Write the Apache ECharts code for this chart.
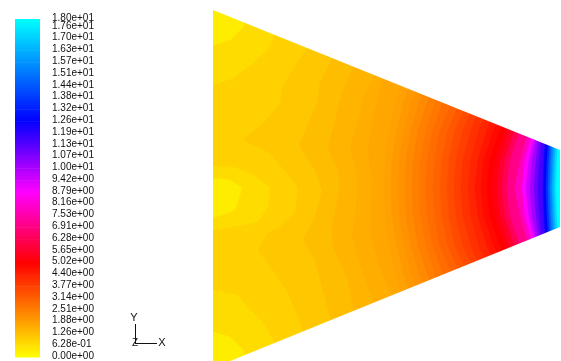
<!DOCTYPE html>
<html><head><meta charset="utf-8">
<style>html,body{margin:0;padding:0;background:#fff}#c{width:561px;height:361px;filter:blur(0.45px)}</style>
<script src="https://cdn.jsdelivr.net/npm/echarts@6/dist/echarts.min.js"></script>
</head><body><div id="c"></div>
<script>
var tickValues=[0,0.628,1.256,1.884,2.512,3.14,3.768,4.396,5.024,5.652,6.28,6.908,7.536,8.164,8.792,9.42,10.05,10.68,11.3,11.93,12.56,13.19,13.82,14.44,15.07,15.7,16.33,16.96,17.58,18.0];
var tickLabels=["0.00e+00","6.28e-01","1.26e+00","1.88e+00","2.51e+00","3.14e+00","3.77e+00","4.40e+00","5.02e+00","5.65e+00","6.28e+00","6.91e+00","7.53e+00","8.16e+00","8.79e+00","9.42e+00","1.00e+01","1.07e+01","1.13e+01","1.19e+01","1.26e+01","1.32e+01","1.38e+01","1.44e+01","1.51e+01","1.57e+01","1.63e+01","1.70e+01","1.76e+01","1.80e+01"];
var colorStopValues=[0,5.02,8.79,12.6,18];
var colorStopRGB=[[255,255,0],[255,0,0],[255,0,255],[0,0,255],[0,255,255]];

var wedgeX=[213,560], wedgeTop=[10,150], wedgeBottom=[368,227];
var baseValue=0.9;

var islandValues=[0.68,0.35,0.68,0.35,0.68,0.35];
var islands=[
 [[213,0],[290,0],[273,37],[267,50],[253,63],[233,78],[213,85]],
 [[213,0],[250,0],[243,27],[230,40],[213,45]],
 [[213,166],[233,167],[253,175],[270,188],[268,207],[257,222],[213,230]],
 [[213,178],[230,180],[242,188],[235,210],[213,218]],
 [[213,290],[237,295],[250,310],[263,323],[273,340],[285,375],[213,375]],
 [[213,332],[230,337],[243,350],[255,375],[213,375]]
];

var leftValues=[1.1,1.3,1.45,1.6,1.75];
var leftContours=[
 [[320,20],[308,48],[297,63],[283,87],[280,103],[265,122],[243,140],[270,153],[290,177],[298,188],[295,213],[280,227],[268,233],[258,250],[275,273],[288,293],[302,327],[315,375]],
 [[345,30],[332,59],[320,83],[317,103],[300,143],[300,147],[315,170],[322,190],[315,217],[303,240],[315,260],[330,317],[338,340]],
 [[365,40],[353,68],[343,90],[337,113],[328,148],[338,170],[340,187],[332,227],[333,247],[347,277],[353,307],[362,335]],
 [[385,50],[373,78],[363,97],[360,113],[350,147],[357,173],[357,197],[352,237],[360,263],[372,298],[382,325]],
 [[395,55],[382,83],[373,117],[368,150],[372,180],[370,233],[380,267],[390,292],[400,318]]
];

var arcY=[60,100,130,160,188,216,246,276,316];
var arcValues=[1.85,2.0,2.15,2.3,2.5,2.7,2.9,3.1,3.3,3.55,3.8,4.05,4.3,4.6,4.85,5.02,5.3,5.7,6.3,7.0,7.8,8.8,9.5,10.2,10.9,11.6,12.6,13.6,14.6,15.5,16.4,17.2,18.0];
var arcs=[
 [409,396,389,385,384,385,389,396,409],
 [418,404,397,392,391,392,397,404,418],
 [428,412,404,399,398,399,404,412,428],
 [436,420,411,406,405,406,411,420,436],
 [445,428,418,413,412,413,418,428,445],
 [453,436,426,420,419,420,426,436,453],
 [462,444,433,427,426,427,433,444,462],
 [471,453,440,435,433,435,440,453,471],
 [480,461,448,442,440,442,448,461,480],
 [490,469,455,449,447,449,455,469,490],
 [500,477,463,456,454,456,463,477,500],
 [510,485,471,463,461,463,471,485,510],
 [520,495,479,471,468,471,479,495,520],
 [530,500,487,478,475,478,487,500,530],
 [538,507,494,484,481,484,494,507,538],
 [545,514,500,490,487,490,500,514,545],
 [560,520,505,495,492,495,505,520,560],
 [565,526,510,500,497,500,510,526,565],
 [570,532,515,505,502,505,515,532,570],
 [575,538,520,510,507,510,520,538,575],
 [585,548,529,520,515,520,529,548,585],
 [590,552,533,525,522,525,533,552,590],
 [590,552,536,529,526,529,536,552,590],
 [590,555,538,532,530,532,538,555,590],
 [590,556,540,536,534,536,540,556,590],
 [590,558,543,539,538,539,543,558,590],
 [590,560,546,544,543,544,546,560,590],
 [590,564,549,547,546,547,549,564,590],
 [590,566,551,549,548,549,551,566,590],
 [590,568,553,551,550,551,553,568,590],
 [590,570,555,553,552,553,555,570,590],
 [590,572,557,555,554,555,557,572,590],
 [590,574,559,557,556,557,559,574,590]
];

function valueColor(v){
  var s=colorStopValues,c=colorStopRGB,i=0;
  while(i<s.length-2&&v>s[i+1])i++;
  var t=Math.min(1,Math.max(0,(v-s[i])/(s[i+1]-s[i])));
  var m=[0,1,2].map(function(k){return Math.round(c[i][k]+(c[i+1][k]-c[i][k])*t)});
  return 'rgb('+m.join(',')+')';
}

var shapes=[];
var xR=wedgeX[1], yLo=-20, yHi=381;
function rightOf(pts){
  var f=pts[0],l=pts[pts.length-1];
  return pts.concat([[xR+10,l[1]],[xR+10,f[1]]]);
}
shapes.push({v:baseValue,pts:[[wedgeX[0],yLo],[xR+10,yLo],[xR+10,yHi],[wedgeX[0],yHi]]});
islands.forEach(function(p,i){shapes.push({v:islandValues[i],pts:p})});
leftContours.forEach(function(p,i){shapes.push({v:leftValues[i],pts:rightOf(p)})});
arcs.forEach(function(row,i){
  shapes.push({v:arcValues[i],pts:rightOf(row.map(function(x,j){return [x,arcY[j]]}))});
});
shapes.push({fill:'#fff',pts:[[wedgeX[0],wedgeTop[0]],[wedgeX[1],wedgeTop[1]],[xR+10,wedgeTop[1]],[xR+10,yLo],[wedgeX[0],yLo]]});
shapes.push({fill:'#fff',pts:[[wedgeX[0],wedgeBottom[0]],[wedgeX[1],wedgeBottom[1]],[xR+10,wedgeBottom[1]],[xR+10,yHi],[wedgeX[0],yHi]]});

var barBands=tickValues.slice(0,-1).map(function(v,i){return [v,tickValues[i+1]]});

var option={
  animation:false,
  backgroundColor:'#fff',
  grid:[
    {left:213,width:347,top:0,height:361,show:false},
    {left:15,width:25,top:19,height:338,show:false}
  ],
  xAxis:[
    {gridIndex:0,type:'value',min:wedgeX[0],max:wedgeX[1],show:false},
    {gridIndex:1,type:'value',min:0,max:1,show:false}
  ],
  yAxis:[
    {gridIndex:0,type:'value',inverse:true,min:0,max:361,show:false},
    {gridIndex:1,type:'value',min:0,max:18,show:false}
  ],
  series:[
    {type:'custom',xAxisIndex:0,yAxisIndex:0,clip:true,silent:true,
     data:shapes.map(function(s,i){return [i]}),
     renderItem:function(params,api){
       var s=shapes[params.dataIndex];
       return {type:'polygon',
         shape:{points:s.pts.map(function(p){return api.coord(p)})},
         style:{fill:s.fill||valueColor(s.v),stroke:s.fill||valueColor(s.v),lineWidth:s.fill?0:0.5}};
     }},
    {type:'custom',xAxisIndex:1,yAxisIndex:1,silent:true,
     data:barBands,
     renderItem:function(params,api){
       var lo=api.value(0),hi=api.value(1);
       var a=api.coord([0,hi]),b=api.coord([1,lo]);
       return {type:'rect',
         shape:{x:a[0],y:a[1],width:b[0]-a[0],height:b[1]-a[1]+0.5},
         style:{fill:new echarts.graphic.LinearGradient(0,0,0,1,[
           {offset:0,color:valueColor(hi)},{offset:1,color:valueColor(lo)}])}};
     }},
    {type:'custom',xAxisIndex:1,yAxisIndex:1,silent:true,clip:false,
     data:tickValues.map(function(v){return [1,v]}),
     renderItem:function(params,api){
       var p=api.coord([1,api.value(1)]);
       return {type:'text',x:p[0]+12,y:p[1]-1,
         style:{text:tickLabels[params.dataIndex],fill:'#111',
           font:'10px "Liberation Sans",Arial,sans-serif',
           textAlign:'left',textVerticalAlign:'middle'}};
     }}
  ],
  graphic:[
    {type:'line',shape:{x1:135.5,y1:324,x2:135.5,y2:343},style:{stroke:'#111',lineWidth:1}},
    {type:'line',shape:{x1:135,y1:343.5,x2:157,y2:343.5},style:{stroke:'#111',lineWidth:1}},
    {type:'text',x:134,y:318,style:{text:'Y',fill:'#111',font:'11px "Liberation Sans"',textAlign:'center',textVerticalAlign:'middle'}},
    {type:'text',x:162,y:343,style:{text:'X',fill:'#111',font:'11px "Liberation Sans"',textAlign:'center',textVerticalAlign:'middle'}},
    {type:'text',x:135,y:343,style:{text:'Z',fill:'#111',font:'10px "Liberation Sans"',textAlign:'center',textVerticalAlign:'middle'}}
  ]
};
echarts.init(document.getElementById('c'),null,{renderer:'canvas'}).setOption(option);
</script></body></html>
